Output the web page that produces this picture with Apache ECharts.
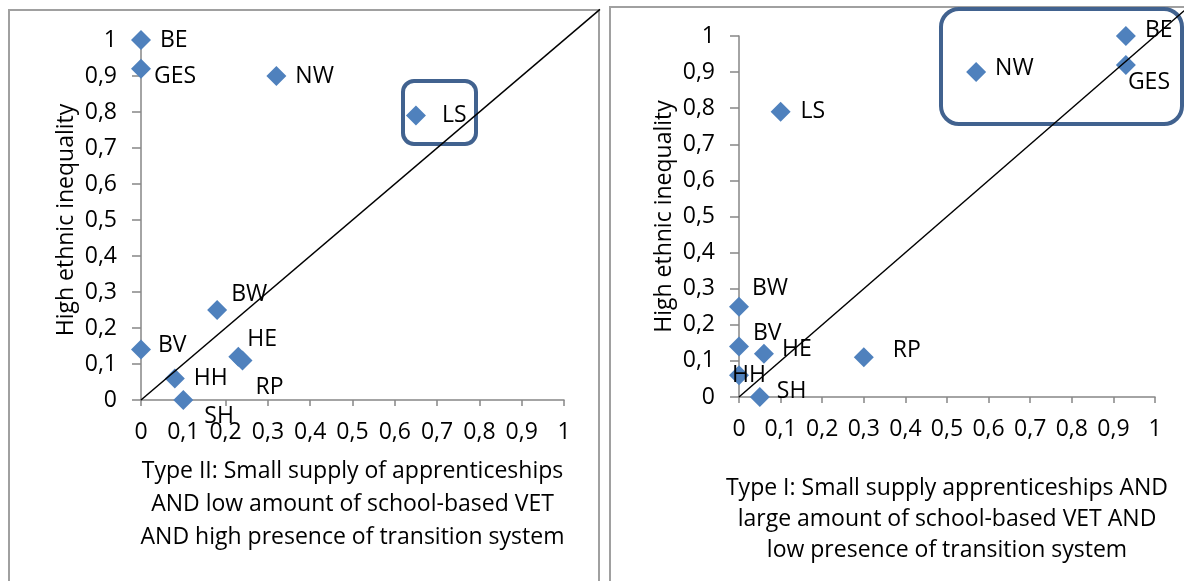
<!DOCTYPE html>
<html>
<head>
<meta charset="utf-8">
<script src="https://cdn.jsdelivr.net/npm/echarts@6/dist/echarts.min.js"></script>
<style>
html,body{margin:0;padding:0;background:#fff;}
#c{width:1184px;height:581px;}
</style>
</head>
<body>
<div id="c"></div>
<script>
// ---- data ----
const regions = ['BE','GES','NW','LS','BW','BV','HE','RP','HH','SH'];
// Left chart: Type II
const typeII_x = [0, 0, 0.32, 0.65, 0.18, 0, 0.23, 0.24, 0.08, 0.10];
const typeII_y = [1, 0.92, 0.90, 0.79, 0.25, 0.14, 0.12, 0.11, 0.06, 0];
// Right chart: Type I
const typeI_x = [0.93, 0.93, 0.57, 0.10, 0, 0, 0.06, 0.30, 0, 0.05];
const typeI_y = [1, 0.92, 0.90, 0.79, 0.25, 0.14, 0.12, 0.11, 0.06, 0];
// reference line y = x (extended up to the frame corner)
const diagLeft = [[0, 0], [1.085, 1.085]];
const diagRight = [[0, 0], [1.07, 1.07]];
const yTitle = 'High ethnic inequality';
const xTitleLeft = 'Type II: Small supply of apprenticeships\nAND low amount of school-based VET\nAND high presence of transition system';
const xTitleRight = 'Type I: Small supply apprenticeships AND\nlarge amount of school-based VET AND\nlow presence of transition system';

// ---- label placement (style, not data) ----
const labelOffLeft = {BE:[9,0],GES:[3,8],NW:[9,0],LS:[16,0],BW:[4,-16],BV:[7,-4],HE:[-1,-17],RP:[3,27],HH:[9,0],SH:[11,16]};
const labelOffRight = {BE:[9,-6],GES:[-8,18],NW:[9,-4],LS:[10,0],BW:[3,-18],BV:[4,-13],HE:[8,-4],RP:[19,-7],HH:[-17,0],SH:[7,-6]};

const FONT = '"Open Sans", "Noto Sans", sans-serif';
const FS = 23;
const AXIS_COLOR = '#868686';
const MARKER = '#4f81bd';

function pts(xs, ys, offs) {
  return regions.map((n, i) => ({
    name: n,
    value: [xs[i], ys[i]],
    label: {offset: offs[n]}
  }));
}
const fmt = v => String(Math.round(v * 10) / 10).replace('.', ',');

function xAxis(idx, title, gap, lh) {
  return {
    gridIndex: idx, type: 'value', min: 0, max: 1, interval: 0.1,
    axisLine: {show: true, lineStyle: {color: AXIS_COLOR, width: 1.5}},
    axisTick: {show: true, length: 6, lineStyle: {color: AXIS_COLOR, width: 1.5}},
    axisLabel: {formatter: fmt, color: '#000', fontFamily: FONT, fontSize: FS, margin: 21},
    splitLine: {show: false},
    name: title, nameLocation: 'middle', nameGap: gap,
    nameTextStyle: {color: '#000', fontFamily: FONT, fontSize: FS, lineHeight: lh, verticalAlign: 'top'}
  };
}
function yAxis(idx) {
  return {
    gridIndex: idx, type: 'value', min: 0, max: 1, interval: 0.1,
    axisLine: {show: true, lineStyle: {color: AXIS_COLOR, width: 1.5}},
    axisTick: {show: true, length: 9, lineStyle: {color: AXIS_COLOR, width: 1.5}},
    axisLabel: {formatter: fmt, color: '#000', fontFamily: FONT, fontSize: FS, margin: 24},
    splitLine: {show: false},
    name: yTitle, nameLocation: 'middle', nameGap: 63, nameRotate: 90,
    nameTextStyle: {color: '#000', fontFamily: FONT, fontSize: FS}
  };
}
function scatter(idx, data) {
  return {
    type: 'scatter', xAxisIndex: idx, yAxisIndex: idx,
    symbol: 'diamond', symbolSize: 20,
    itemStyle: {color: MARKER, opacity: 1},
    label: {show: true, position: 'right', distance: 0, formatter: '{b}',
      color: '#000', fontFamily: FONT, fontSize: FS},
    data: data, z: 3
  };
}

const chart = echarts.init(document.getElementById('c'), null, {renderer: 'canvas'});
chart.setOption({
  animation: false,
  backgroundColor: '#fff',
  grid: [
    {left: 141, top: 40, width: 423, height: 360},
    {left: 739, top: 36, width: 416, height: 361}
  ],
  xAxis: [xAxis(0, xTitleLeft, 55, 33), xAxis(1, xTitleRight, 76, 31)],
  yAxis: [yAxis(0), yAxis(1)],
  series: [
    scatter(0, pts(typeII_x, typeII_y, labelOffLeft)),
    scatter(1, pts(typeI_x, typeI_y, labelOffRight))
  ]
});

// diagonal y = x lines, mapped through the axes (extending past the plot to the frame corner)
const lp = diagLeft.map(p => chart.convertToPixel({gridIndex: 0}, p));
const rp = diagRight.map(p => chart.convertToPixel({gridIndex: 1}, p));

chart.setOption({
  graphic: [
    {type: 'rect', shape: {x: 9, y: 10, width: 590, height: 620},
      style: {fill: 'none', stroke: '#a0a0a0', lineWidth: 2}, z: 0},
    {type: 'rect', shape: {x: 610, y: 7, width: 600, height: 620},
      style: {fill: 'none', stroke: '#a0a0a0', lineWidth: 2}, z: 0},
    {type: 'polyline', shape: {points: lp}, style: {stroke: '#000', lineWidth: 1.5, fill: null}, z: 50},
    {type: 'polyline', shape: {points: rp}, style: {stroke: '#000', lineWidth: 1.5, fill: null}, z: 50},
    {type: 'rect', shape: {x: 403, y: 81, width: 73, height: 63, r: 11},
      style: {fill: 'none', stroke: '#41628f', lineWidth: 4}, z: 10},
    {type: 'rect', shape: {x: 941, y: 9, width: 241, height: 115, r: 18},
      style: {fill: 'none', stroke: '#41628f', lineWidth: 4}, z: 10}
  ]
});
</script>
</body>
</html>
